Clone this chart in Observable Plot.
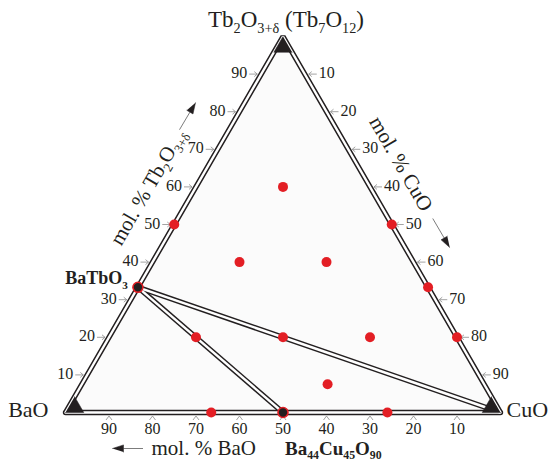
<!DOCTYPE html>
<html><head><meta charset="utf-8">
<script src="https://cdn.jsdelivr.net/npm/d3@7"></script>
<script src="https://cdn.jsdelivr.net/npm/@observablehq/plot@0.6"></script>
<style>body{margin:0;background:#fff;} svg{display:block}</style>
</head><body><div id="chart"></div>
<script>
// ---- data ----
const vertexLabels = ["BaO", "CuO", "Tb_{2}O_{3+δ} (Tb_{7}O_{12})"];
const tickValues = [10, 20, 30, 40, 50, 60, 70, 80, 90];
const axisTitles = ["mol. % BaO", "mol. % Tb_{2}O_{3+δ}", "mol. % CuO"];
// sample compositions (mol. %)
const sampleBaO = [20, 50, 0, 40, 20, 0, 0, 40, 20, 60, 36, 66.5, 26];
const sampleCuO = [20, 0, 50, 20, 40, 66.7, 80, 40, 60, 20, 56.5, 33.5, 74];
const sampleTb  = [60, 50, 50, 40, 40, 33.3, 20, 20, 20, 20, 7.5, 0, 0];
// identified phases
const phaseLabels = ["BaTbO_{3}", "Ba_{44}Cu_{45}O_{90}"];
const phaseBaO = [66.7, 50];
const phaseCuO = [0, 50];
const phaseTb  = [33.3, 0];
// tie lines: from phase index to composition
const tieFromPhase = [0, 0];
const tieToBaO = [0, 50];
const tieToCuO = [100, 50];
const tieToTb  = [0, 0];

// ---- geometry helpers ----
const X0 = 65, X1 = 500, Y0 = 412, Y1 = 36;
const P = X1 - X0, Q = Y0 - Y1;
const proj = (a, c, t) => { const s = a + c + t; return {x: (c + t / 2) / s, y: t / s}; };
const off = (p, dx, dy) => ({x: p.x + dx / P, y: p.y - dy / Q});
const seg = (p, q) => ({x1: p.x, y1: p.y, x2: q.x, y2: q.y});

const vBaO = proj(1, 0, 0), vCuO = proj(0, 1, 0), vTb = proj(0, 0, 1);
const boundary = [vBaO, vCuO, vTb, vBaO, vCuO];
const fillPoly = [vBaO, vCuO, vTb];

const phases = phaseLabels.map((l, i) => ({label: l, ...proj(phaseBaO[i], phaseCuO[i], phaseTb[i])}));
const samples = sampleBaO.map((a, i) => proj(a, sampleCuO[i], sampleTb[i]));
const ties = tieFromPhase.map((pi, i) => seg(phases[pi], proj(tieToBaO[i], tieToCuO[i], tieToTb[i])));

// corner markers
const s = 0.042;
const corners = [
  [proj(1,0,0), proj(1-s,s,0), proj(1-s,0,s)],
  [proj(0,1,0), proj(s,1-s,0), proj(0,1-s,s)],
  [proj(0,0,1), proj(s,0,1-s), proj(0,s,1-s)]
].flatMap((tri, k) => tri.map(p => ({...p, k})));

// ticks
const tickSegs = [];
const leftTicks = [], rightTicks = [], bottomTicks = [];
for (const k of tickValues) {
  const f = k / 100;
  const L = proj(1 - f, 0, f);   // Tb2O3 axis (left edge)
  const R = proj(0, f, 1 - f);   // CuO axis (right edge)
  const B = proj(f, 1 - f, 0);   // BaO axis (bottom edge)
  leftTicks.push({k, ...L}); rightTicks.push({k, ...R}); bottomTicks.push({k, ...B});
  tickSegs.push(seg(off(L,-12,0), off(L,-4,0)), seg(off(L,-4,0), off(L,-7,-2.5)), seg(off(L,-4,0), off(L,-7,2.5)));
  tickSegs.push(seg(off(R,12,0), off(R,4,0)), seg(off(R,4,0), off(R,7,-2.5)), seg(off(R,4,0), off(R,7,2.5)));
  tickSegs.push(seg(off(B,-3,7.5), off(B,0,3.5)), seg(off(B,0,3.5), off(B,3,7.5)));
}

// annotation arrows (pixel offsets relative to an anchor on the triangle)
const arrowShafts = [], arrowHeads = [];
function addArrow(anchor, tdx, tdy, hdx, hdy, id) {
  const L = Math.hypot(hdx - tdx, hdy - tdy);
  const ux = (hdx - tdx) / L, uy = (hdy - tdy) / L;
  const hl = 11, hw = 3.6;
  const bx = hdx - ux * hl, by = hdy - uy * hl;
  arrowShafts.push(seg(off(anchor, tdx, tdy), off(anchor, bx, by)));
  arrowHeads.push({id, ...off(anchor, hdx, hdy)}, {id, ...off(anchor, bx - uy * hw, by + ux * hw)}, {id, ...off(anchor, bx + uy * hw, by - ux * hw)});
}
const b90 = proj(0.9, 0.1, 0), b80 = proj(0.8, 0.2, 0);
const l60 = proj(0.4, 0, 0.6), l80 = proj(0.2, 0, 0.8);
const r40 = proj(0, 0.4, 0.6), r50 = proj(0, 0.5, 0.5);
addArrow(b90, 34, 36, 3.5, 36, 0);
addArrow(l80, -60, 18, -44, -9, 1);
addArrow(r50, 41, -6, 58, 23, 2);

const serif = "'Liberation Serif', 'Times New Roman', serif";
const ink = "#231f20";
const red = "#e31e24";

const chart = Plot.plot({
  width: 552, height: 462, margin: 0,
  x: {domain: [0, 1], range: [X0, X1], axis: null},
  y: {domain: [0, 1], range: [Y0, Y1], axis: null},
  style: {fontFamily: serif, background: "#fff", color: ink},
  marks: [
    Plot.line(fillPoly, {x: "x", y: "y", fill: "#fbfbfb", stroke: "none"}),
    Plot.link(tickSegs, {x1: "x1", y1: "y1", x2: "x2", y2: "y2", stroke: "#8c8c8c", strokeWidth: 0.8}),
    // double lines: black then white
    Plot.line(boundary, {x: "x", y: "y", stroke: ink, strokeWidth: 5.4, strokeLinejoin: "miter"}),
    Plot.link(ties, {x1: "x1", y1: "y1", x2: "x2", y2: "y2", stroke: ink, strokeWidth: 5.4}),
    Plot.line(boundary, {x: "x", y: "y", stroke: "#fff", strokeWidth: 2.4, strokeLinejoin: "miter"}),
    Plot.link(ties, {x1: "x1", y1: "y1", x2: "x2", y2: "y2", stroke: "#fff", strokeWidth: 2.4}),
    Plot.line(corners, {x: "x", y: "y", z: "k", fill: ink, stroke: ink, strokeWidth: 0.5}),
    Plot.dot(samples, {x: "x", y: "y", r: 5, fill: red, stroke: "none"}),
    Plot.dot(phases, {x: "x", y: "y", r: 5, fill: ink, stroke: red, strokeWidth: 1.6}),
    // tick labels
    Plot.text(leftTicks, {x: "x", y: "y", text: d => String(d.k), dx: -14, dy: -1, textAnchor: "end", fontSize: 16, fill: ink}),
    Plot.text(rightTicks, {x: "x", y: "y", text: d => String(d.k), dx: 14, dy: -1, textAnchor: "start", fontSize: 16, fill: ink}),
    Plot.text(bottomTicks, {x: "x", y: "y", text: d => String(d.k), dy: 16, textAnchor: "middle", fontSize: 16, fill: ink}),
    // vertex labels
    Plot.text([vBaO], {x: "x", y: "y", text: [vertexLabels[0]], dx: -17, dy: -3, textAnchor: "end", fontSize: 22, fill: ink}),
    Plot.text([vCuO], {x: "x", y: "y", text: [vertexLabels[1]], dx: 6, dy: -3, textAnchor: "start", fontSize: 22, fill: ink}),
    Plot.text([vTb], {x: "x", y: "y", text: [vertexLabels[2]], dx: 3, dy: -17, textAnchor: "middle", fontSize: 23, fill: ink}),
    // axis titles
    Plot.text([b80], {x: "x", y: "y", text: [axisTitles[0]], dx: -1, dy: 36, textAnchor: "start", fontSize: 21, fill: ink}),
    Plot.text([l60], {x: "x", y: "y", text: [axisTitles[1]], dx: -48, dy: 0, rotate: -60, textAnchor: "middle", fontSize: 21, fill: ink}),
    Plot.text([r40], {x: "x", y: "y", text: [axisTitles[2]], dx: 31, dy: -23, rotate: 60, textAnchor: "middle", fontSize: 21, fill: ink}),
    Plot.link(arrowShafts, {x1: "x1", y1: "y1", x2: "x2", y2: "y2", stroke: "#6d6d6d", strokeWidth: 0.9}),
    Plot.line(arrowHeads, {x: "x", y: "y", z: "id", fill: ink, stroke: ink, strokeWidth: 0.5}),
    // phase labels
    Plot.text([phases[0]], {x: "x", y: "y", text: "label", dx: -10, dy: -9, textAnchor: "end", fontSize: 18, fontWeight: "bold", fill: ink}),
    Plot.text([phases[1]], {x: "x", y: "y", text: "label", dx: 2, dy: 36, textAnchor: "start", fontSize: 19, fontWeight: "bold", fill: ink})
  ]
});
document.getElementById("chart").appendChild(chart);

// subscripts: turn "_{...}" into real subscript tspans
function richify(svg) {
  svg.querySelectorAll("text").forEach(t => {
    const str = t.textContent;
    if (!str.includes("_{")) return;
    const base = parseFloat(getComputedStyle(t).fontSize) || 16;
    const parts = str.split(/(_\{[^}]*\})/).filter(p => p.length);
    while (t.firstChild) t.removeChild(t.firstChild);
    let down = false;
    for (const p of parts) {
      const ts = document.createElementNS("http://www.w3.org/2000/svg", "tspan");
      if (p.startsWith("_{")) {
        ts.textContent = p.slice(2, -1);
        ts.setAttribute("font-size", (base * 0.62).toFixed(1));
        if (!down) { ts.setAttribute("dy", (base * 0.25).toFixed(1)); down = true; }
      } else {
        ts.textContent = p;
        if (down) { ts.setAttribute("dy", (-base * 0.25).toFixed(1)); down = false; }
      }
      t.appendChild(ts);
    }
  });
}
richify(chart);
</script>
</body></html>
